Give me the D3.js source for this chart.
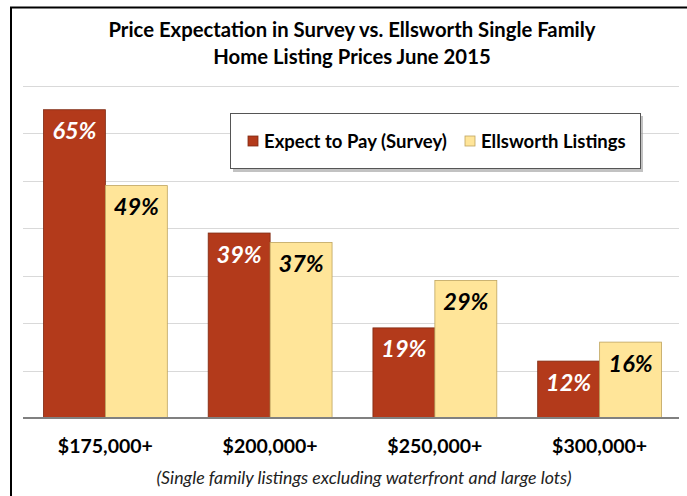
<!DOCTYPE html>
<html><head><meta charset="utf-8">
<script src="https://cdn.jsdelivr.net/npm/d3@7"></script>
<style>body{margin:0;background:#fff}svg{display:block}text{font-family:Lato,"Open Sans",sans-serif}</style>
</head><body><svg id="c" width="687" height="496"></svg>
<script>
const categories = ["$175,000+", "$200,000+", "$250,000+", "$300,000+"];
const seriesNames = ["Expect to Pay (Survey)", "Ellsworth Listings"];
const survey = [65, 39, 19, 12];
const listings = [49, 37, 29, 16];
const yTicks = [0, 10, 20, 30, 40, 50, 60, 70];
const titleLines = ["Price Expectation in Survey vs. Ellsworth Single Family", "Home Listing Prices June 2015"];
const footnote = "(Single family listings excluding waterfront and large lots)";

const fills = ["#B33A1B", "#FFE599"];
const strokes = ["#7E2A12", "#BFA45E"];
const labelColors = ["#ffffff", "#000000"];

const svg = d3.select("#c");
svg.append("rect").attr("x", 11).attr("y", 7.5).attr("width", 700).attr("height", 520)
  .attr("fill", "#fff").attr("stroke", "#000").attr("stroke-width", 2);

const y = d3.scaleLinear().domain([0, 70]).range([418, 86]);
const x0 = d3.scaleBand().domain(categories).range([23, 682]).padding(0);
const x1 = d3.scaleBand().domain(seriesNames).range([0, x0.bandwidth()]).paddingInner(0).paddingOuter(0.33);

svg.append("g").selectAll("line").data(yTicks.filter(d => d > 0)).join("line")
  .attr("x1", 23).attr("x2", 679).attr("y1", d => Math.round(y(d)) + 0.5).attr("y2", d => Math.round(y(d)) + 0.5)
  .attr("stroke", "#D9D9D9").attr("stroke-width", 1.2);

const data = categories.map((c, i) => ({cat: c, vals: [survey[i], listings[i]]}));
const groups = svg.append("g").selectAll("g").data(data).join("g")
  .attr("transform", d => `translate(${x0(d.cat)},0)`);
groups.selectAll("rect").data(d => d.vals.map((v, j) => ({v, j}))).join("rect")
  .attr("x", d => x1(seriesNames[d.j]))
  .attr("y", d => y(d.v))
  .attr("width", x1.bandwidth())
  .attr("height", d => y(0) - y(d.v))
  .attr("fill", d => fills[d.j])
  .attr("stroke", d => strokes[d.j]).attr("stroke-width", 0.8);
groups.selectAll("text").data(d => d.vals.map((v, j) => ({v, j}))).join("text")
  .attr("x", d => x1(seriesNames[d.j]) + x1.bandwidth() / 2)
  .attr("y", d => y(d.v) + 29.5)
  .attr("text-anchor", "middle")
  .attr("font-size", 23.5).attr("font-weight", "bold").attr("font-style", "italic")
  .attr("fill", d => labelColors[d.j])
  .text(d => d.v + "%");

svg.append("line").attr("x1", 23).attr("x2", 679).attr("y1", y(0)).attr("y2", y(0))
  .attr("stroke", "#808080").attr("stroke-width", 1.8);

const xAxis = d3.axisBottom(x0).tickSize(0).tickPadding(0);
const xg = svg.append("g").attr("transform", `translate(0,${y(0)})`).call(xAxis);
xg.select(".domain").remove();
xg.selectAll("text").attr("dy", null).attr("y", 35).attr("font-size", 19.5).attr("font-weight", "bold")
  .attr("fill", "#000").attr("font-family", "Lato, sans-serif");

svg.append("g").selectAll("text").data(titleLines).join("text")
  .attr("x", 352).attr("y", (d, i) => 37 + i * 27).attr("text-anchor", "middle")
  .attr("font-size", 20.3).attr("font-weight", "bold").attr("fill", "#000").text(d => d);

svg.append("text").attr("x", 364).attr("y", 484).attr("text-anchor", "middle")
  .attr("font-size", 16.5).attr("font-style", "italic").attr("fill", "#222")
  .attr("textLength", 415).attr("lengthAdjust", "spacingAndGlyphs").text(footnote);

const lg = svg.append("g");
lg.append("rect").attr("x", 233).attr("y", 116).attr("width", 410).attr("height", 56).attr("fill", "#9a9a9a").attr("opacity", 0.6);
lg.append("rect").attr("x", 230.5).attr("y", 113.5).attr("width", 410).attr("height", 55).attr("fill", "#fff").attr("stroke", "#555").attr("stroke-width", 1);
const legX = [248, 465];
const li = lg.selectAll("g").data(seriesNames).join("g").attr("transform", (d, i) => `translate(${legX[i]},0)`);
li.append("rect").attr("x", 0).attr("y", 136).attr("width", 10).attr("height", 10)
  .attr("fill", (d, i) => fills[i]).attr("stroke", (d, i) => strokes[i]).attr("stroke-width", 0.8);
li.append("text").attr("x", 16).attr("y", 147.5).attr("font-size", 18.5).attr("font-weight", "bold").attr("fill", "#000").text(d => d);
</script></body></html>
